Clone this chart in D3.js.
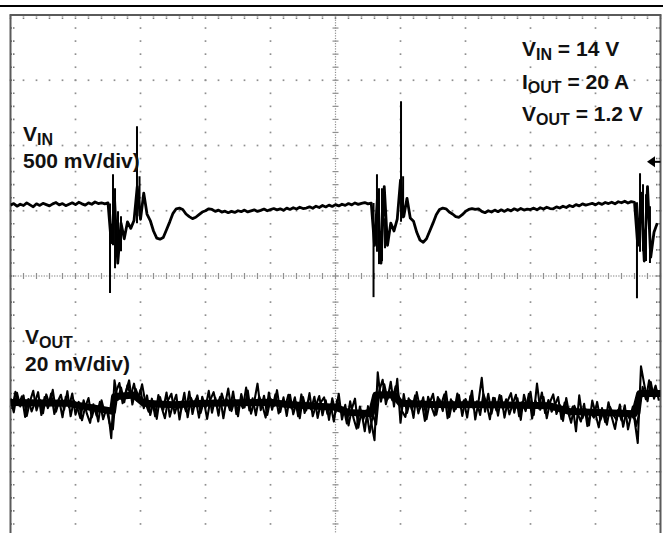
<!DOCTYPE html>
<html><head><meta charset="utf-8">
<script src="https://cdn.jsdelivr.net/npm/d3@7"></script>
<style>body{margin:0;background:#fff} svg{display:block}</style>
</head><body>
<svg id="c" width="663" height="533"></svg>
<script>
// ---- data (screen divisions / mV) ----
const sampleStepDiv = 0.05;            // time between samples, in horizontal divisions
const vinScaleMvPerDiv = 500;
const voutScaleMvPerDiv = 20;
const vinOffsetDiv = 1.07;             // channel position
const voutOffsetDiv = -1.95;
const vinMarkerDiv = 1.75;             // channel reference marker level

// VIN deviation, mV (AC), sampled
const vinMv = [
  8, 20, 0, 15, 5, 25, 10, -5, 18, 6, 22, 12, 2, 18, 28, 10, 20, 4, 15, 26, 12, 30, 18, 8, 25, 15, 32, 20, 26, 18,
  25, -280, 60, -436, -130, -250, -120, -170, -110, 150, -100, 100, -60, -110, -190, -245, -253, -240, -180, -120,
  -55, -20, -15, -25, -60, -80, -95, -85, -65, -45, -35, -20,
  -25, -40, -30, -45, -38, -50, -40, -48, -35, -42,
  -30, -44, -36, -28, -40, -32, -22, -35, -26, -18,
  -28, -20, -32, -15, -25, -12, -22, -8, -18, -14,
  -5, -16, 0, -10, 5, -6, 8, -2, 12, 2,
  15, 6, 20, 10, 25, 14, 22, 28, 18, 24,
  -300, 100, -436, 150, -300, -130, -190, -100, 200, -80, 60, -90,
  -115, -200, -260, -276, -250, -190, -130, -65, -25, -15, -20, -45, -60, -80, -85, -65, -40, -25, -18, -25, -20,
  -40, -50, -35, -45, -30, -42,
  -28, -40, -25, -36, -20, -32, -18, -30, -22, -26,
  -15, -28, -12, -22, -8, -18, -20, -5, -14, 0,
  -10, 5, -4, 12, 2, 18, 8, 15, 22, 10,
  25, 14, 28, 20, 30, 18, 34, 26, 38, 24, 35,
  30, -300, 100, -420, 150, -390, -200, -130
];
// VIN peak-detect glitches: time (div), min and max (mV)
const vinPeakT   = [1.531, 1.577, 1.608, 1.654, 1.700, 1.946, 1.985,
                    5.585, 5.638, 5.669, 5.715, 5.762, 6.008, 6.040,
                    9.638, 9.685, 9.731, 9.777, 9.838];
const vinPeakMin = [-666, -300, -475, -368, -345, -130, -77,
                    -697, -350, -444, -421, -322, -120, -92,
                    -705, -350, -345, -421, -436];
const vinPeakMax = [20, 245, 138, -38, -77, 613, 230,
                    25, 245, 138, 138, -92, 804, 230,
                    30, 253, 168, 92, 0];

// VOUT deviation, mV (AC), noise samples (record A)
const voutMv = [
  1.5, -2.8, 3.2, -1.0, 2.4, -3.9, 0.6, 3.8, -2.2, 1.1,
  -3.1, 2.7, -0.4, 4.1, -2.6, 0.9, -4.3, 2.0, -1.2, 3.0,
  -3.5, 0.4, -5.2, -1.1, 1.6, -4.4, -0.8, -5.6, 0.9, -3.0,
  -2.0, -10.7, 7.0,
  1.0, 4.8, 0.3, 5.5, 2.2, 6.0, 0.8, 4.1, -1.5,
  2.4, -3.6, 0.5, -4.8, 1.9, -2.0, 3.3, -4.1, -0.3, 2.6, -5.0, 0.8, -2.5, 3.6, -3.3, 1.2, -4.4, 2.0, -1.4, 3.8,
  -2.9, 1.7, -3.8, 3.0, -0.5, 4.5, -2.4, 1.0, -4.0, 2.8, -1.3, 3.9, -3.2, 0.4, 6.0, -2.1, 2.3, -3.6, 1.4, -0.9, 4.0, -2.7, 1.8, -3.9,
  2.6, -3.4, 0.2, -4.6, 1.9, -2.2, 3.1, -4.0, -0.6, 2.2, -3.7, 0.9, -5.1, 1.5, -2.8, 2.9,
  -5.0, -0.5, -6.8, -1.8, 1.4, -7.5, -2.6, -8.6, -0.9, -5.9,
  -11.3, 9.5,
  0.5, 5.8, 1.2, 6.6, -1.0, 7.5,
  -6.0,
  2.8, -3.0, 0.9, -4.5, 3.4, -1.6, 1.8, -4.9, 0.2, 2.9, -3.5, 1.1, -2.4, 3.6, -4.2, 0.6, -1.8, 2.5, -3.9, 1.3, -0.8, 3.8, -5.0, 0.4, 7.8, -2.6, 2.9, -3.2, 1.6, -3.8,
  2.2, -4.4, 0.7, 3.1, -2.9, 1.5, -5.1, 2.6, -1.2, 3.5, -3.6, 6.0, -2.0, 1.9, -4.6, 0.3, 2.7, -3.3,
  -0.5, -5.4, 1.6, -3.8, -1.0, -8.6, 2.4, -4.6, -1.9, -6.8, 0.8, -3.2, -7.4, -1.5, -5.8, 0.3, -4.2, -7.9, -2.0, -5.3, -0.6, -8.0, -3.4,
  -5.0, -12.2, 11.3,
  5.8, 0.6, 6.5, 1.4, 4.2
];
// VOUT noise samples (record B, half a sample later)
const voutMvB = [
  -1.8, 3.5, -0.6, 2.1, -4.2, 1.3, -2.5, 0.2, 3.4, -3.6,
  1.9, -1.5, 3.0, -3.3, 0.5, 2.6, -2.0, 3.7, -4.0, 0.8,
  -1.2, -4.6, 0.9, -3.2, -6.0, -0.3, -3.8, 0.4, -4.9, -1.6,
  -6.2, -8.0, 3.6,
  6.2, 0.0, 3.6, 7.0, -0.4, 4.4, 1.7, 5.8, 0.2,
  -2.6, 1.4, -4.0, 2.5, -1.3, -4.6, 1.0, 2.9, -3.1, 0.0, -1.9, 3.2, -4.3, 1.7, -0.8, 2.4, -3.0, 0.7, -4.8, 1.1,
  3.4, -1.0, 2.0, -4.6, 1.3, -2.1, 3.6, -3.3, 0.6, -1.5, 4.8, -2.2, 1.5, -3.7, 2.1, -0.6, -4.4, 3.3, -2.0, 2.7, -3.1, 0.5, -1.2, 2.6,
  -1.6, 1.8, -4.0, 2.7, -3.0, 0.6, -1.9, 2.0, -4.5, 0.3, 1.8, -3.2, -0.4, -5.6, 1.0, -2.4,
  -1.4, -6.2, 0.6, -4.4, -7.8, -1.0, -5.0, -2.2, -9.0, -3.6,
  -6.5, 4.0,
  7.2, -0.3, 3.8, 0.9, 5.2, 2.0,
  -2.5,
  -4.2, 1.5, -2.0, 2.4, -3.1, 0.7, -5.4, 2.0, -1.0, -3.8, 1.9, -0.5, 2.7, -4.6, 1.2, -2.5, 3.0, -1.4, 0.9, -4.4, 2.2, -1.7, 0.6, -3.6, 2.8, -0.2, -4.9, 1.7, -2.2, 2.5,
  -1.7, 1.2, -3.4, -0.3, 2.6, -4.0, 0.4, -2.4, 2.9, -4.7, 0.8, -1.6, 3.3, -3.0, 1.0, -2.6, -0.6, 1.9,
  -4.8, 0.2, -2.4, -6.0, -0.8, -3.2, -5.6, -0.2, -7.0, -2.8, -4.4, 0.4, -5.2, -2.4, -6.6, -1.2, -3.6, -5.1, -0.4, -7.2, -2.6, -4.8, -1.0,
  -7.0, -3.0, 5.0,
  1.2, 7.0, 2.6, 5.4, 0.8
];
// VOUT dense trace core (local mean level): time (div), mV
const voutCoreT  = [0.0, 0.9, 1.0, 1.5, 1.57, 1.6, 1.9, 2.05, 2.5, 3.0, 4.0, 4.3, 5.0, 5.2, 5.55, 5.62, 5.9, 6.0, 6.5, 7.5, 8.3, 8.6, 9.6, 9.68, 10.0];
const voutCoreMv = [0.2, 0.0, -0.5, -2.2, -2.5, 2.0, 2.5, 0.0, -0.5, 0.0, 0.3, -0.5, -1.2, -2.8, -3.2, 2.5, 2.6, 0.0, -0.4, -0.5, -0.8, -2.5, -3.2, 3.0, 3.0];

const vinLabel = ["V", "IN", "500 mV/div)"];
const voutLabel = ["V", "OUT", "20 mV/div)"];
const condSym = ["V", "I", "V"];
const condSub = ["IN", "OUT", "OUT"];
const condVal = [" = 14 V", " = 20 A", " = 1.2 V"];

// ---- drawing ----
const svg = d3.select("#c");
const W = 663, H = 533;
const x = d3.scaleLinear().domain([0, 10]).range([10.5, 660.5]);
const y = d3.scaleLinear().domain([-4, 4]).range([537, 15]);

svg.append("line").attr("x1", 0).attr("x2", W).attr("y1", 6).attr("y2", 6)
  .attr("stroke", "#000").attr("stroke-width", 2);

const grid = svg.append("g");
const minorX = d3.range(0, 10.0001, 0.2);
const minorY = d3.range(-4, 4.0001, 0.2);
const dotC = "#8f8f8f";

function dots(pts, s) {
  grid.selectAll(null).data(pts).join("rect")
    .attr("x", d => d[0] - s / 2).attr("y", d => d[1] - s / 2)
    .attr("width", s).attr("height", s).attr("fill", dotC);
}
const vPts = [];
[1, 2, 3, 4, 6, 7, 8, 9].forEach(k => minorY.forEach(v => vPts.push([x(k), y(v)])));
dots(vPts, 1.7);
const hPts = [];
[-3, -2, -1, 1, 2, 3].forEach(k => minorX.forEach(t => hPts.push([x(t), y(k)])));
dots(hPts, 1.7);
const cPts = [];
d3.range(0, 10.0001, 0.04).forEach(t => cPts.push([x(t), y(0)]));
d3.range(-4, 4.0001, 0.04).forEach(v => cPts.push([x(5), y(v)]));
dots(cPts, 1.2);
grid.selectAll(null).data(minorX).join("line")
  .attr("x1", d => x(d)).attr("x2", d => x(d)).attr("y1", y(0) - 3).attr("y2", y(0) + 3)
  .attr("stroke", dotC).attr("stroke-width", 1.2);
grid.selectAll(null).data(minorY).join("line")
  .attr("y1", d => y(d)).attr("y2", d => y(d)).attr("x1", x(5) - 3).attr("x2", x(5) + 3)
  .attr("stroke", dotC).attr("stroke-width", 1.2);
grid.selectAll(null).data(minorY).join("line")
  .attr("y1", d => y(d)).attr("y2", d => y(d)).attr("x1", x(0)).attr("x2", x(0) + 4.5)
  .attr("stroke", "#777").attr("stroke-width", 1.6).attr("stroke-dasharray", "1.5,1");
grid.selectAll(null).data(minorY).join("line")
  .attr("y1", d => y(d)).attr("y2", d => y(d)).attr("x1", x(10) - 4.5).attr("x2", x(10))
  .attr("stroke", "#777").attr("stroke-width", 1.6).attr("stroke-dasharray", "1.5,1");
grid.selectAll(null).data(minorX).join("line")
  .attr("x1", d => x(d)).attr("x2", d => x(d)).attr("y1", y(4)).attr("y2", y(4) + 4.5)
  .attr("stroke", "#777").attr("stroke-width", 1.6).attr("stroke-dasharray", "1.5,1");

svg.append("rect").attr("x", x(0)).attr("y", y(4)).attr("width", x(10) - x(0)).attr("height", y(-4) - y(4))
  .attr("fill", "none").attr("stroke", "#5a5a5a").attr("stroke-width", 2);

svg.append("clipPath").attr("id", "clip").append("rect")
  .attr("x", x(0)).attr("y", y(4)).attr("width", x(10) - x(0)).attr("height", y(-4) - y(4));

const yIn = mv => y(vinOffsetDiv + mv / vinScaleMvPerDiv);
const yOut = mv => y(voutOffsetDiv + mv / voutScaleMvPerDiv);
const vinLine = d3.line().x((d, i) => x(i * sampleStepDiv)).y(d => yIn(d));
const voutLine = d3.line().x((d, i) => x(i * sampleStepDiv)).y(d => yOut(d));
const voutLineB = d3.line().x((d, i) => x((i + 0.5) * sampleStepDiv)).y(d => yOut(d));
const coreLine = d3.line().x(d => x(d[0])).y(d => yOut(d[1]));

const traces = svg.append("g").attr("clip-path", "url(#clip)");
traces.append("path").attr("d", vinLine(vinMv)).attr("fill", "none")
  .attr("stroke", "#000").attr("stroke-width", 2.8).attr("stroke-linejoin", "round");
traces.selectAll(null).data(vinPeakT).join("line")
  .attr("x1", d => x(d)).attr("x2", d => x(d))
  .attr("y1", (d, i) => yIn(vinPeakMin[i])).attr("y2", (d, i) => yIn(vinPeakMax[i]))
  .attr("stroke", "#000").attr("stroke-width", 2);
traces.append("path").attr("d", coreLine(voutCoreT.map((t, i) => [t, voutCoreMv[i]]))).attr("fill", "none")
  .attr("stroke", "#000").attr("stroke-width", 7).attr("stroke-linejoin", "round");
traces.append("path").attr("d", voutLine(voutMv)).attr("fill", "none")
  .attr("stroke", "#000").attr("stroke-width", 2.1).attr("stroke-linejoin", "round");
traces.append("path").attr("d", voutLineB(voutMvB)).attr("fill", "none")
  .attr("stroke", "#000").attr("stroke-width", 2.1).attr("stroke-linejoin", "round");

const my = y(vinMarkerDiv);
const mx = x(10);
svg.append("path").attr("d", `M${mx - 13.5},${my} L${mx - 5.5},${my - 5.5} L${mx - 5.5},${my + 5.5} Z`).attr("fill", "#000");
svg.append("line").attr("x1", mx - 6).attr("x2", mx).attr("y1", my).attr("y2", my).attr("stroke", "#000").attr("stroke-width", 2);

const font = "'Liberation Sans', Arial, sans-serif";
const FS = 21, SFS = 16;
function txt(xp, yp) {
  return svg.append("text").attr("x", xp).attr("y", yp)
    .attr("font-family", font).attr("font-weight", "bold").attr("font-size", FS).attr("fill", "#111");
}
function label(xp, yp, sym, sub, rest) {
  const t = txt(xp, yp);
  t.append("tspan").text(sym);
  t.append("tspan").attr("font-size", SFS).attr("dy", 4).text(sub);
  if (rest) t.append("tspan").attr("dy", -4).text(rest);
  return t;
}
label(23, 141, vinLabel[0], vinLabel[1]);
txt(23, 168).text(vinLabel[2]);
label(25, 344, voutLabel[0], voutLabel[1]);
txt(25, 371).text(voutLabel[2]);

const condY = [56, 89, 121];
condSym.forEach((s, i) => label(522, condY[i], s, condSub[i], condVal[i]));
</script>
</body></html>
